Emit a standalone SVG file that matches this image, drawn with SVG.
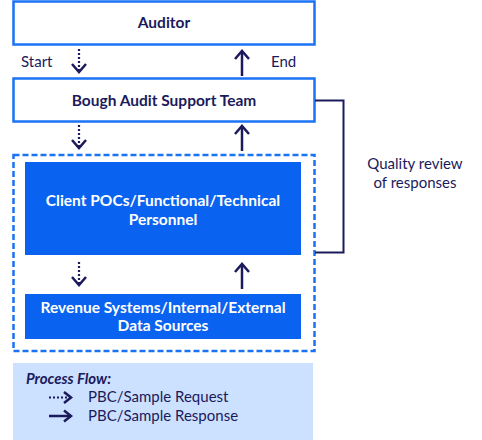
<svg xmlns="http://www.w3.org/2000/svg" width="482" height="440" viewBox="0 0 482 440">
<style>
text{font-family:Lato,"Liberation Sans",sans-serif;fill:#1b1a5c}
.b{font-weight:bold;font-size:15.5px;text-anchor:middle}
.w{fill:#ffffff}
.n{font-size:15px}
.box{fill:#fff;stroke:#1a73f5;stroke-width:2.5}
.fill{fill:#0a63f0}
.dot{stroke:#1b1a5c;stroke-width:2.2;stroke-dasharray:2 2;fill:none}
.sol{stroke:#1b1a5c;stroke-width:2.5;fill:none}
.head{stroke:#1b1a5c;stroke-width:2.5;fill:none;stroke-linejoin:miter}
</style>
<rect x="0" y="0" width="482" height="440" fill="#fff"/>
<g id="auditor">
<rect class="box" x="13.5" y="1.5" width="301" height="43"/>
<text class="b" x="164" y="28">Auditor</text>
</g>
<g id="bough">
<rect class="box" x="13.5" y="78.5" width="301" height="43"/>
<text class="b" x="164" y="105.5">Bough Audit Support Team</text>
</g>
<g id="group">
<rect x="13.5" y="155" width="301" height="196" fill="none" stroke="#1a73f5" stroke-width="2.5" stroke-dasharray="6 3"/>
</g>
<g id="client">
<rect class="fill" x="25" y="162" width="276" height="93"/>
<text class="b w" x="163" y="206">Client POCs/Functional/Technical</text>
<text class="b w" x="163" y="224.5">Personnel</text>
</g>
<g id="revenue">
<rect class="fill" x="25" y="294" width="276" height="45"/>
<text class="b w" x="163" y="312.5">Revenue Systems/Internal/External</text>
<text class="b w" x="163" y="331">Data Sources</text>
</g>
<g id="labels">
<text class="n" x="21" y="67">Start</text>
<text class="n" x="271" y="67">End</text>
<text class="n" x="415" y="168.5" text-anchor="middle">Quality review</text>
<text class="n" x="415" y="187.5" text-anchor="middle">of responses</text>
</g>
<g id="connectors">
<path class="dot" d="M79 49V71"/>
<path class="head" d="M72 64L79 72L86 64"/>
<path class="sol" d="M242 76V52"/>
<path class="head" d="M235 59L242 51L249 59"/>
<path class="dot" d="M79 125V147"/>
<path class="head" d="M72 140L79 148L86 140"/>
<path class="sol" d="M242 151V127"/>
<path class="head" d="M235 134L242 126L249 134"/>
<path class="dot" d="M79 262V284"/>
<path class="head" d="M72 277L79 285L86 277"/>
<path class="sol" d="M242 289V265"/>
<path class="head" d="M235 272L242 264L249 272"/>
<path d="M315 100.5H343.5V252.5H315" fill="none" stroke="#1b1a5c" stroke-width="2"/>
</g>
<g id="legend">
<rect x="13" y="363" width="300" height="77" fill="#cce0ff"/>
<text x="26" y="384" font-size="15" font-weight="bold" font-style="italic">Process Flow:</text>
<path class="dot" d="M49 397.5H70"/>
<path class="head" d="M64 392L71 397.5L64 403"/>
<text class="n" x="88" y="402">PBC/Sample Request</text>
<path class="sol" d="M49 416H71"/>
<path class="head" d="M64 410.5L71 416L64 421.5"/>
<text class="n" x="88" y="420.5">PBC/Sample Response</text>
</g>
</svg>
